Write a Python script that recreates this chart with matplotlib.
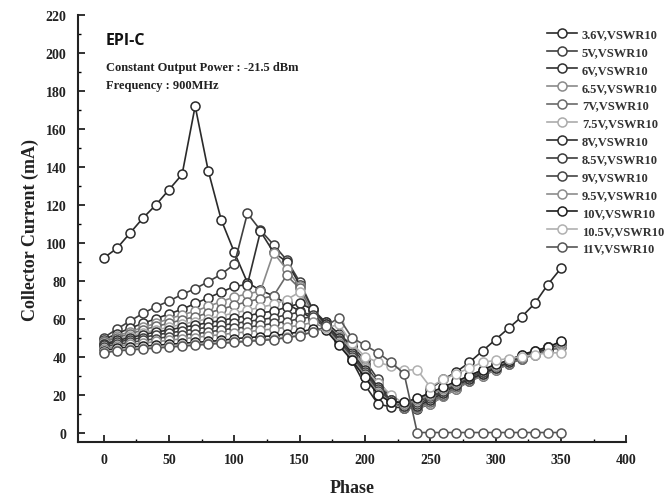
import matplotlib
matplotlib.use("Agg")
import matplotlib.pyplot as plt
from matplotlib.ticker import MultipleLocator

phase = [0, 10, 20, 30, 40, 50, 60, 70, 80, 90, 100, 110, 120, 130, 140, 150, 160, 170,
         180, 190, 200, 210, 220, 230, 240, 250, 260, 270, 280, 290, 300, 310, 320, 330, 340, 350]

v3_6 = [92, 97, 105, 113, 120, 128, 136, 172, 138, 112, 95, 79, 75, 72, 68, 64, 60, 56,
        48, 38, 25, 15, 13.5, 13, 14, 23, 28, 32, 37, 43, 49, 55, 61, 68, 78, 86.5]
v5 = [50, 54.5, 58.7, 62.8, 66.3, 69.3, 72.8, 75.8, 79.5, 83.4, 88.7, 115.5, 106.6, 99, 91, 79.5, 65, 58,
      52, 46, 38, 28, 18, 14, 13, 16, 20, 24, 28, 31, 34, 37, 40, 42, 45, 47]
v6 = [49, 52, 55, 57.5, 60, 62.5, 65, 68, 71, 74, 77, 78, 106, 95, 90, 78, 64, 58,
      52, 45, 36, 26, 17, 13, 12.5, 15, 19, 23, 27, 30, 33, 36, 39, 42, 44, 46]
v6_5 = [48, 51, 53, 55.5, 57.5, 60, 62, 64, 66.5, 69, 71.5, 73, 74.6, 94.8, 86, 77, 63, 57,
        51, 44, 35, 24, 16, 13, 13, 15, 19, 23, 27, 30, 33, 36, 39, 41, 43, 45]
v7 = [47.5, 50, 52, 54, 56, 57.5, 59.5, 61, 63, 65, 67, 69, 70.5, 72, 82.8, 76, 62, 57,
      50, 43, 34, 23, 16, 13, 13.5, 16, 20, 24, 27, 31, 34, 36, 39, 41, 43, 45]
v7_5 = [47, 49, 51, 52.5, 54, 55.5, 57, 58.5, 60, 61.5, 63, 64.5, 66, 67.5, 70, 74, 62, 56,
        50, 43, 34, 26, 20, 15, 14, 17, 21, 25, 28, 32, 35, 37, 40, 42, 44, 46]
v8 = [46.5, 48.5, 50, 51.5, 53, 54, 55.5, 56.5, 58, 59, 60.5, 61.5, 63, 64, 66, 68, 65, 57,
      50, 42, 33, 24, 17, 14, 14, 17, 21, 25, 28, 31, 34, 37, 40, 42, 44, 47]
v8_5 = [46, 47.5, 49, 50, 51.5, 52.5, 53.5, 54.5, 55.5, 56.5, 57.5, 58.5, 59.5, 60.5, 62, 63.5, 62, 56,
        49, 41, 32, 23, 17, 14, 15, 18, 22, 25, 29, 32, 35, 38, 40, 42, 45, 47]
v9 = [45, 46.5, 47.5, 48.5, 49.5, 50.5, 51.5, 52, 53, 54, 55, 55.5, 56.5, 57.5, 58.5, 60, 61, 55,
      48, 40, 31, 22, 17, 15, 16, 19, 22, 26, 29, 32, 35, 38, 40, 43, 45, 47.5]
v9_5 = [44, 45.5, 46.5, 47, 48, 48.5, 49.5, 50, 51, 51.5, 52.5, 53, 54, 54.5, 55.5, 56.5, 58, 55,
        47, 39, 30, 21, 16, 15, 17, 20, 23, 26, 30, 33, 35, 38, 41, 43, 45, 47]
v10 = [43, 44.5, 45, 45.5, 46, 46.5, 47, 47.5, 48, 48.5, 49.5, 50, 50.5, 51, 52, 53, 54.5, 54,
       46, 38, 29, 20, 16, 16, 18, 21, 24, 27, 30, 33, 36, 38, 41, 43, 45, 48]
v10_5 = [42.5, 43.5, 44, 44.5, 45, 45.5, 46, 46.5, 47, 47.5, 48, 48.5, 49, 49.5, 50.5, 51.5, 53, 55,
         57, 47, 40, 37, 35, 33, 33, 24, 28, 31, 34, 37, 38, 39, 40, 41, 42, 42]
v11 = [42, 43, 43.5, 44, 44.5, 45, 45.5, 46, 46.5, 47, 47.5, 48, 48.5, 49, 50, 51, 53, 56,
       60.5, 50, 46, 42, 37, 31, 0, 0, 0, 0, 0, 0, 0, 0, 0, 0, 0, 0]

labels = ["3.6V,VSWR10", "5V,VSWR10", "6V,VSWR10", "6.5V,VSWR10", "7V,VSWR10", "7.5V,VSWR10",
          "8V,VSWR10", "8.5V,VSWR10", "9V,VSWR10", "9.5V,VSWR10", "10V,VSWR10", "10.5V,VSWR10",
          "11V,VSWR10"]
series = [v3_6, v5, v6, v6_5, v7, v7_5, v8, v8_5, v9, v9_5, v10, v10_5, v11]
colors = ["#2a2a2a", "#404040", "#303030", "#8a8a8a", "#6a6a6a", "#ababab", "#2e2e2e",
          "#3c3c3c", "#444444", "#8c8c8c", "#1e1e1e", "#b0b0b0", "#555555"]

serif = "Liberation Serif"

fig = plt.figure(figsize=(6.69, 5.02), dpi=100)
ax = fig.add_axes([0.116, 0.1175, 0.82, 0.8505])

for y, lab, c in zip(series, labels, colors):
    ax.plot(phase, y, color=c, lw=1.2, marker="o", ms=6.5, mfc="white", mec=c, mew=1.1,
            label=lab)

ax.set_xlim(-20, 400)
ax.set_ylim(-5, 220)
ax.xaxis.set_major_locator(MultipleLocator(50))
ax.xaxis.set_minor_locator(MultipleLocator(25))
ax.yaxis.set_major_locator(MultipleLocator(20))
ax.yaxis.set_minor_locator(MultipleLocator(10))
for s in ["top", "right"]:
    ax.spines[s].set_visible(False)
for s in ["left", "bottom"]:
    ax.spines[s].set_linewidth(1.5)
    ax.spines[s].set_color("#222222")
ax.tick_params(which="major", direction="in", length=5, width=1.3, pad=8, colors="#222222")
ax.tick_params(which="minor", direction="in", length=2.5, width=1.0)
for t in ax.get_xticklabels() + ax.get_yticklabels():
    t.set_fontfamily(serif)
    t.set_fontweight("bold")
    t.set_fontsize(10)
    t.set_color("#222222")

ax.set_xlabel("Phase", fontfamily=serif, fontweight="bold", fontsize=13, color="#222222", labelpad=9)
ax.set_ylabel("Collector Current (mA)", fontfamily=serif, fontweight="bold", fontsize=13,
              color="#222222", labelpad=5)

ax.text(1.5, 207, "EPI-C", fontfamily="Open Sans", fontweight="bold", fontsize=11.5,
        color="#111111", va="center", ha="left")
ax.text(1.5, 192.5, "Constant Output Power : -21.5 dBm", fontfamily=serif, fontweight="bold",
        fontsize=9, color="#222222", va="center", ha="left")
ax.text(1.5, 183, "Frequency : 900MHz", fontfamily=serif, fontweight="bold",
        fontsize=9, color="#222222", va="center", ha="left")

leg = ax.legend(loc="upper left", bbox_to_anchor=(0.8176, 0.942), bbox_transform=fig.transFigure,
                frameon=False, borderpad=0, borderaxespad=0, handlelength=2.4,
                handletextpad=0.4, labelspacing=0.47,
                prop={"family": serif, "weight": "bold", "size": 9})
for t in leg.get_texts():
    t.set_color("#333333")

fig.savefig("out.png", dpi=100)
